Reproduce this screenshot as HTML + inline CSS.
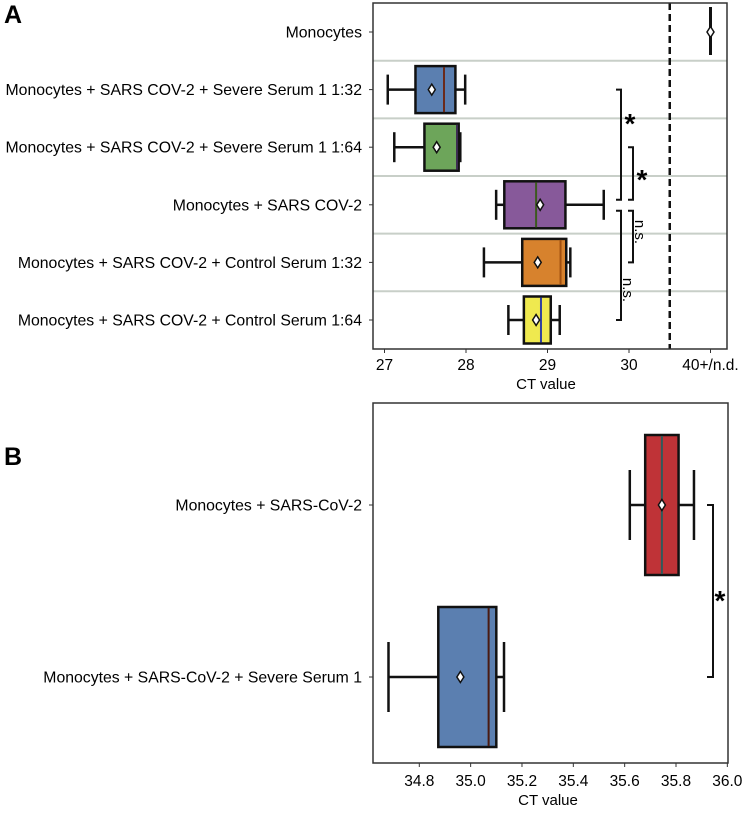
<!DOCTYPE html>
<html><head><meta charset="utf-8">
<style>
body{margin:0;background:#fff;width:745px;height:810px;overflow:hidden}
svg{font-family:"Liberation Sans",Arial,sans-serif}
</style></head>
<body>
<svg id="s" width="745" height="810" xmlns="http://www.w3.org/2000/svg">
<text x="4" y="23" font-size="25" font-weight="bold">A</text>
<text x="4" y="465" font-size="25" font-weight="bold">B</text>
</svg>
<script>
// Panel A data
const catsA = ["Monocytes","Monocytes + SARS COV-2 + Severe Serum 1 1:32","Monocytes + SARS COV-2 + Severe Serum 1 1:64","Monocytes + SARS COV-2","Monocytes + SARS COV-2 + Control Serum 1:32","Monocytes + SARS COV-2 + Control Serum 1:64"];
const wloA = [31,27.04,27.12,28.37,28.22,28.52];
const q1A  = [31,27.38,27.49,28.47,28.69,28.71];
const medA = [31,27.73,27.89,28.86,29.16,28.92];
const q3A  = [31,27.87,27.91,29.22,29.23,29.04];
const whiA = [31,27.99,27.93,29.69,29.28,29.15];
const meanA= [31,27.58,27.64,28.91,28.88,28.86];
const fillA= ["#fff","#5b7fb0","#6da55a","#87599a","#d7822d","#efe94f"];
const medColA=["#000","#6b2a1a","#3a2a50","#3d5a20","#a05010","#3040a0"];
const ticksA=[27,28,29,30,31];
const tickLabA=["27","28","29","30","40+/n.d."];
// Panel B data
const catsB=["Monocytes + SARS-CoV-2","Monocytes + SARS-CoV-2 + Severe Serum 1"];
const wloB=[35.62,34.68], q1B=[35.68,34.874], medB=[35.745,35.07], q3B=[35.81,35.10], whiB=[35.87,35.13], meanB=[35.745,34.96];
const fillB=["#bf3337","#5b7fb0"], medColB=["#2f5a5a","#4a1a10"];
const ticksB=[34.8,35.0,35.2,35.4,35.6,35.8,36.0];

const S=document.getElementById('s');
const NS="http://www.w3.org/2000/svg";
function el(t,a,txt){const e=document.createElementNS(NS,t);for(const k in a)e.setAttribute(k,a[k]);if(txt!==undefined)e.textContent=txt;S.appendChild(e);return e;}

const xA=v=>384.5+(v-27)*81.5;
const yA=i=>32+i*57.6;
for(let i=1;i<6;i++){const y=(yA(i-1)+yA(i))/2;const l=el('line',{x1:373,x2:727,y1:y,y2:y,stroke:'#c8cfc8','stroke-width':2});
}
let d=el('line',{x1:xA(30.5),x2:xA(30.5),y1:3,y2:349,stroke:'#111','stroke-width':2.5,'stroke-dasharray':'7,4'});

function boxes(cats,wlo,q1,med,q3,whi,mean,fill,medCol,xf,yf,h,cap,lab){
 for(let i=0;i<cats.length;i++){
  const y=yf(i);
  const g=el('g',{});
  const add=(t,a)=>{const e=document.createElementNS(NS,t);for(const k in a)e.setAttribute(k,a[k]);g.appendChild(e);return e;};
  if(q3[i]>q1[i]){
   add('line',{x1:xf(wlo[i]),x2:xf(q1[i]),y1:y,y2:y,stroke:'#111','stroke-width':2.5});
   add('line',{x1:xf(q3[i]),x2:xf(whi[i]),y1:y,y2:y,stroke:'#111','stroke-width':2.5});
   add('line',{x1:xf(wlo[i]),x2:xf(wlo[i]),y1:y-cap,y2:y+cap,stroke:'#111','stroke-width':2.5});
   add('line',{x1:xf(whi[i]),x2:xf(whi[i]),y1:y-cap,y2:y+cap,stroke:'#111','stroke-width':2.5});
   add('rect',{x:xf(q1[i]),y:y-h/2,width:xf(q3[i])-xf(q1[i]),height:h,fill:fill[i],stroke:'#111','stroke-width':2.5});
   add('line',{x1:xf(med[i]),x2:xf(med[i]),y1:y-h/2+1,y2:y+h/2-1,stroke:medCol[i],'stroke-width':2});
  } else {
   add('line',{x1:xf(med[i]),x2:xf(med[i]),y1:y-25,y2:y+23,stroke:'#111','stroke-width':3});
  }
  const m=xf(mean[i]);
  add('path',{d:`M${m} ${y-5.5}L${m+3.5} ${y}L${m} ${y+5.5}L${m-3.5} ${y}Z`,fill:'#fff',stroke:'#111','stroke-width':1.5});
 }
}
boxes(catsA,wloA,q1A,medA,q3A,whiA,meanA,fillA,medColA,xA,yA,47,15,'a');
let f=el('rect',{x:373,y:3,width:354,height:346,fill:'none',stroke:'#333','stroke-width':1.5});

catsA.forEach((c,i)=>{el('line',{x1:369,x2:373,y1:yA(i),y2:yA(i),stroke:'#333'});
 const t=el('text',{x:362,y:yA(i)+5.5,'font-size':15.8,'text-anchor':'end'},c);
 });
ticksA.forEach((v,i)=>{el('line',{x1:xA(v),x2:xA(v),y1:349,y2:353,stroke:'#333'});
 const t=el('text',{x:xA(v),y:370,'font-size':15.5,'text-anchor':'middle'},tickLabA[i]);
 });
let xt=el('text',{x:546,y:389,'font-size':15,'text-anchor':'middle'},'CT value');

function bracket(x1,x2,y1,y2,name){const p=el('path',{d:`M${x1} ${y1}H${x2}V${y2}H${x1}`,fill:'none',stroke:'#111','stroke-width':2});
 }
bracket(616,621,yA(1),yA(3)-5,'sig-bracket-1');
bracket(628,633,yA(2),yA(3)-5,'sig-bracket-2');
bracket(616,621,yA(3)+6,yA(5),'ns-bracket-1');
bracket(628,633,yA(3)+6,yA(4),'ns-bracket-2');
let s1=el('text',{x:630,y:133,'font-size':28,'text-anchor':'middle','font-weight':'bold'},'*');
let s2=el('text',{x:642,y:189,'font-size':28,'text-anchor':'middle','font-weight':'bold'},'*');
let n1=el('text',{x:0,y:0,'font-size':15,'text-anchor':'middle',transform:'translate(635,232) rotate(90)'},'n.s.');
let n2=el('text',{x:0,y:0,'font-size':15,'text-anchor':'middle',transform:'translate(623,290) rotate(90)'},'n.s.');

const xB=v=>419.3+(v-34.8)*256.7;
const yB=i=>505+i*172;
boxes(catsB,wloB,q1B,medB,q3B,whiB,meanB,fillB,medColB,xB,yB,140,35,'b');
let fb=el('rect',{x:373,y:403,width:355,height:360,fill:'none',stroke:'#333','stroke-width':1.5});

catsB.forEach((c,i)=>{el('line',{x1:369,x2:373,y1:yB(i),y2:yB(i),stroke:'#333'});
 const t=el('text',{x:362,y:yB(i)+5.5,'font-size':15.8,'text-anchor':'end'},c);
 });
ticksB.forEach(v=>{el('line',{x1:xB(v),x2:xB(v),y1:763,y2:767,stroke:'#333'});
 const t=el('text',{x:xB(v),y:786,'font-size':15.5,'text-anchor':'middle'},v.toFixed(1));
 });
let xtb=el('text',{x:548,y:805,'font-size':15,'text-anchor':'middle'},'CT value');

bracket(707,713,yB(0),yB(1),'sig-bracket-b');
let s3=el('text',{x:720,y:610,'font-size':28,'text-anchor':'middle','font-weight':'bold'},'*');
</script>
</body></html>
